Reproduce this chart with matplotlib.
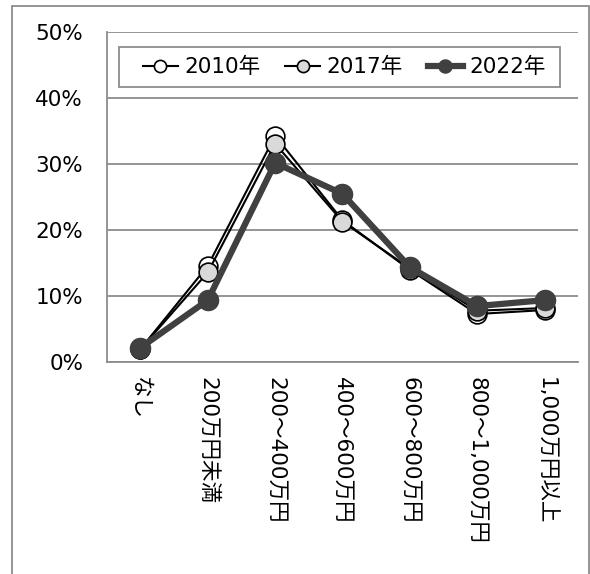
import matplotlib.pyplot as plt
from matplotlib.patches import Rectangle

plt.rcParams['font.family'] = ['DejaVu Sans', 'Noto Sans CJK JP']

# income brackets and share of households (%)
categories = ["なし", "200万円未満", "200～400万円", "400～600万円",
              "600～800万円", "800～1,000万円", "1,000万円以上"]
share_2010 = [2.0, 14.6, 34.3, 21.5, 14.0, 7.3, 7.9]
share_2017 = [2.0, 13.6, 33.1, 21.3, 14.2, 7.8, 8.2]
share_2022 = [2.2, 9.4, 30.2, 25.5, 14.4, 8.5, 9.4]

fig = plt.figure(figsize=(5.9, 5.74), dpi=100)
ax = fig.add_axes([0.181, 0.369, 0.799, 0.575])

x = range(len(categories))
ax.plot(x, share_2010, color="black", lw=1.5, marker="o", ms=13.5,
        mfc="white", mec="black", mew=1.2, label="2010年", zorder=3)
ax.plot(x, share_2017, color="black", lw=1.5, marker="o", ms=13.5,
        mfc="#d9d9d9", mec="black", mew=1.2, label="2017年", zorder=4)
ax.plot(x, share_2022, color="#404040", lw=4.5, marker="o", ms=14.5,
        mfc="#404040", mec="#404040", label="2022年", zorder=5)

ax.set_xlim(-0.5, len(categories) - 0.5)
ax.set_ylim(0, 50)
ax.set_yticks(range(0, 51, 10))
ax.set_yticklabels([f"{v}%" for v in range(0, 51, 10)], fontsize=15.5)
ax.set_xticks(list(x))
ax.set_xticklabels(categories, rotation=270, fontsize=15.5, va="top", ha="center")
ax.tick_params(length=0)
ax.tick_params(axis="y", pad=17)
ax.tick_params(axis="x", pad=11)

ax.grid(axis="y", color="#8c8c8c", lw=1.3)
ax.set_axisbelow(True)
for side in ["top", "right"]:
    ax.spines[side].set_visible(False)
for side in ["left", "bottom"]:
    ax.spines[side].set_color("#8c8c8c")
    ax.spines[side].set_linewidth(1.3)

# legend box drawn separately so the padding can be set freely
ax.add_patch(Rectangle((0.0255, 0.833), 0.9365, 0.1215, transform=ax.transAxes,
                       facecolor="white", edgecolor="#8c8c8c", lw=1.3, zorder=6))
leg = ax.legend(loc="center left", bbox_to_anchor=(0.0764, 0.894), ncol=3,
                fontsize=15.5, frameon=False, borderaxespad=0, borderpad=0,
                handlelength=1.63, handletextpad=0.3, columnspacing=1.15,
                markerscale=0.65)
leg.set_zorder(7)

# outer chart border
fig.patches.append(Rectangle((0.02, -0.01), 0.978, 1.0, transform=fig.transFigure,
                             fill=False, edgecolor="#8c8c8c", lw=1.3))

fig.savefig("out.png", dpi=100)
